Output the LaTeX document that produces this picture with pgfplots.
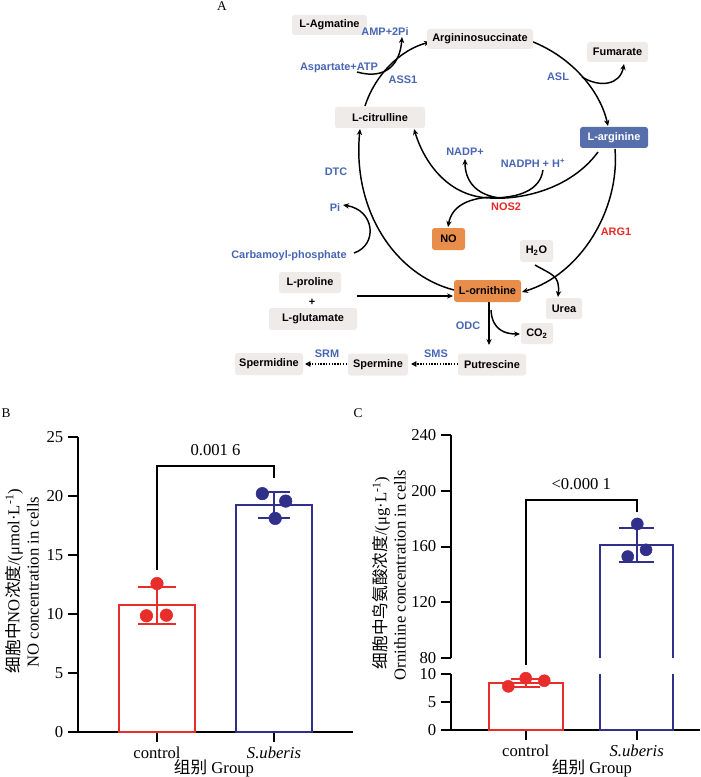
\documentclass[border=0pt]{standalone}
\usepackage{pgfplots}
\pgfplotsset{compat=1.18}
\usepackage{fontspec}
\setmainfont{Liberation Serif}
\newfontfamily\arial{Liberation Sans}
\newfontfamily\cjk{Noto Sans CJK SC}
\usetikzlibrary{arrows.meta}
\definecolor{boxgray}{RGB}{239,235,233}
\definecolor{orng}{RGB}{233,141,75}
\definecolor{bluebox}{RGB}{86,111,170}
\definecolor{bluetxt}{RGB}{72,102,180}
\definecolor{redtxt}{RGB}{235,40,40}
\definecolor{cred}{RGB}{232,45,42}
\definecolor{cblue}{RGB}{48,48,138}
\begin{document}
\begin{tikzpicture}[x=0.75pt,y=-0.75pt]
\path[use as bounding box] (0,0) rectangle (700,777);
\tikzset{
 dfont/.style={font=\arial\bfseries\fontsize{8.2}{9}\selectfont},
 box/.style={dfont, fill=boxgray, rounded corners=2pt, inner sep=0pt, text=black},
 lab/.style={dfont, text=bluetxt, inner sep=0pt},
 rlab/.style={dfont, text=redtxt, inner sep=0pt},
 ar/.style={line width=1.1pt, -{Stealth[length=4.5pt,width=4pt]}},
 ln/.style={line width=1.1pt},
 dar/.style={line width=1.1pt, densely dotted, -{Triangle[open,length=4pt,width=4pt]}},
 ctext/.style={font=\fontsize{12.5}{14}\selectfont},
}
% ---------------- Panel A ----------------
\node[font=\fontsize{10}{12}\selectfont] at (222,6) {A};
% curves
\draw[ar] (365,106) .. controls (375,75) and (400,50) .. (430,42);
\draw[ar] (357,72) .. controls (385,80) and (400,65) .. (402,37);
\draw[ar] (528,40) .. controls (570,55) and (600,90) .. (608,126);
\draw[ar] (582,77) .. controls (600,88) and (620,85) .. (624,64);
\draw[ar] (615,149) .. controls (620,210) and (580,275) .. (522,292);
\draw[ar] (535,265) .. controls (552,275) and (560,275) .. (558,297);
\draw[ar] (454,290) .. controls (395,275) and (352,210) .. (360,129);
\draw[ar] (354,253) .. controls (378,245) and (375,210) .. (343,205);
\draw[ar] (598,152) .. controls (570,190) and (520,200) .. (490,198) .. controls (450,197) and (425,165) .. (414,129);
\draw[ar] (500,198) .. controls (475,195) and (465,180) .. (465,159);
\draw[ln] (543,170) .. controls (540,190) and (520,198) .. (490,198);
\draw[ar] (492,197) .. controls (470,198) and (452,205) .. (448,227);
\draw[ar] (357,296) -- (453,296);
\draw[ar] (489,302) -- (489,345);
\draw[ar] (491,310) .. controls (492,330) and (505,334) .. (520,334);
\draw[dar] (458,364) -- (411,364);
\draw[dar] (347,364) -- (305,364);
% boxes
\node[box, minimum width=56.25pt, minimum height=15pt] at (329.5,25) {L-Agmatine};
\node[box, minimum width=79.5pt, minimum height=15pt] at (480,39) {Argininosuccinate};
\node[box, minimum width=45.75pt, minimum height=15pt] at (617.5,52) {Fumarate};
\node[box, minimum width=67.5pt, minimum height=15.75pt] at (380,117.5) {L-citrulline};
\node[box, fill=bluebox, text=white, minimum width=51pt, minimum height=15.75pt] at (614,137.5) {L-arginine};
\node[box, fill=orng, minimum width=24.75pt, minimum height=16.5pt] at (448.5,239) {NO};
\node[box, minimum width=24.75pt, minimum height=16.5pt] at (536.5,251) {H\textsubscript{2}O};
\node[box, minimum width=46.5pt, minimum height=15.75pt] at (310,282.5) {L-proline};
\node[box, minimum width=66pt, minimum height=16.5pt] at (313,319) {L-glutamate};
\node[box, fill=orng, minimum width=50.25pt, minimum height=16.5pt] at (487.5,291) {L-ornithine};
\node[box, minimum width=27pt, minimum height=15.75pt] at (564,308.5) {Urea};
\node[box, minimum width=24pt, minimum height=15.75pt] at (537,333.5) {CO\textsubscript{2}};
\node[box, minimum width=51pt, minimum height=16.5pt] at (269,364) {Spermidine};
\node[box, minimum width=45pt, minimum height=16.5pt] at (378,364.5) {Spermine};
\node[box, minimum width=51pt, minimum height=16.5pt] at (492,364.5) {Putrescine};
% labels
\node[lab] at (385,32) {AMP+2Pi};
\node[lab] at (339,68) {Aspartate+ATP};
\node[lab] at (403,80) {ASS1};
\node[lab] at (558,77) {ASL};
\node[lab] at (465,152) {NADP+};
\node[lab] at (533,163) {NADPH + H\textsuperscript{+}};
\node[lab] at (336,172) {DTC};
\node[lab] at (335,208) {Pi};
\node[rlab] at (506,207) {NOS2};
\node[rlab] at (616,232) {ARG1};
\node[lab] at (289,256) {Carbamoyl-phosphate};
\node[dfont, inner sep=0pt] at (312,302) {+};
\node[lab] at (468,326) {ODC};
\node[lab] at (327,354) {SRM};
\node[lab] at (436,354) {SMS};
% ---------------- Panel B ----------------
\node[font=\fontsize{10}{12}\selectfont] at (6,413) {B};
\begin{axis}[at={(58.5pt,-549pt)}, anchor=south west, scale only axis,
  width=206.25pt, height=221.25pt,
  xmin=-0.675, xmax=1.675, ymin=0, ymax=25,
  axis lines=left, axis line style={line width=1.5pt, -},
  xtick={0,1}, xticklabels={control,\textit{S.uberis}},
  ytick={0,5,...,25},
  tick style={line width=1.5pt, black}, major tick length=7.5pt, tick align=outside,
  tick label style={font=\fontsize{12.5}{14}\selectfont},
  /pgf/number format/assume math mode=true,
  clip=false]
\addplot[ybar, bar width=0.65, bar shift=0pt, draw=cred, fill=white, line width=1.5pt,
  error bars/.cd, y dir=both, y explicit,
  error bar style={line width=1.5pt, cred},
  error mark options={rotate=90, line width=1.5pt, mark size=14pt, cred}]
  coordinates {(0,10.75) +- (0,1.58)};
\addplot[ybar, bar width=0.65, bar shift=0pt, draw=cblue, fill=white, line width=1.5pt,
  error bars/.cd, y dir=both, y explicit,
  error bar style={line width=1.5pt, cblue},
  error mark options={rotate=90, line width=1.5pt, mark size=12pt, cblue}]
  coordinates {(1,19.26) +- (0,1.1)};
\addplot[only marks, mark=*, mark size=4.7pt, cred] coordinates {(0,12.58) (-0.09,9.85) (0.08,9.9)};
\addplot[only marks, mark=*, mark size=4.7pt, cblue] coordinates {(0.9,20.2) (1.1,19.57) (1.01,18.1)};
\draw[line width=1.5pt] (axis cs:0,13.7) -- (axis cs:0,22.55) -- (axis cs:1,22.55) -- (axis cs:1,21.5);
\node[ctext] at (axis cs:0.5,23.9) {0.001 6};
\end{axis}
\node[rotate=90, ctext] at (14,581) {{\cjk 细胞中}NO{\cjk 浓度}/(μmol·L\textsuperscript{-1})};
\node[rotate=90, ctext] at (33,582) {NO concentration in cells};
\node[ctext] at (214,768) {{\cjk 组别} Group};
% ---------------- Panel C ----------------
\node[font=\fontsize{10}{12}\selectfont] at (358,413) {C};
\begin{axis}[at={(338.25pt,-547.5pt)}, anchor=south west, scale only axis,
  width=186.75pt, height=42pt,
  xmin=-0.673, xmax=1.570, ymin=0, ymax=10,
  axis lines=left, axis line style={line width=1.5pt, -},
  xtick={0,1}, xticklabels={control,\textit{S.uberis}},
  ytick={0,5,10},
  tick style={line width=1.5pt, black}, major tick length=7.5pt, tick align=outside,
  tick label style={font=\fontsize{12.5}{14}\selectfont},
  /pgf/number format/assume math mode=true,
  clip mode=individual]
\addplot[ybar, bar width=0.667, bar shift=0pt, draw=cred, fill=white, line width=1.5pt,
  error bars/.cd, y dir=both, y explicit,
  error bar style={line width=1.5pt, cred},
  error mark options={rotate=90, line width=1.5pt, mark size=11pt, cred}]
  coordinates {(0,8.4) +- (0,0.7)};
\addplot[ybar, bar width=0.66, bar shift=0pt, draw=cblue, fill=white, line width=1.5pt]
  coordinates {(1,161.2)};
\addplot[only marks, mark=*, mark size=4.5pt, cred] coordinates {(-0.157,7.8) (0,9.25) (0.167,8.8)};
\end{axis}
\begin{axis}[at={(338.25pt,-493.5pt)}, anchor=south west, scale only axis,
  width=186.75pt, height=167.25pt,
  xmin=-0.673, xmax=1.570, ymin=80, ymax=240,
  axis y line=left, axis x line=none, axis line style={line width=1.5pt, -},
  ytick={80,120,...,240},
  tick style={line width=1.5pt, black}, major tick length=7.5pt, tick align=outside,
  tick label style={font=\fontsize{12.5}{14}\selectfont},
  /pgf/number format/assume math mode=true,
  clip mode=individual]
% bar outline (open at the axis break)
\addplot[cblue, line width=1.5pt, mark=none, line join=miter]
  coordinates {(0.67,80) (0.67,161.2) (1.33,161.2) (1.33,80)};
\addplot[cblue, line width=1.5pt, mark=none,
  error bars/.cd, y dir=both, y explicit,
  error bar style={line width=1.5pt, cblue},
  error mark options={rotate=90, line width=1.5pt, mark size=13pt, cblue}]
  coordinates {(1,161.2) +- (0,12)};
\addplot[only marks, mark=*, mark size=4.5pt, cblue] coordinates {(1.005,176.2) (1.084,157.6) (0.919,152.8)};
\draw[line width=1.5pt] (axis cs:0,75) -- (axis cs:0,193.4) -- (axis cs:1,193.4) -- (axis cs:1,185);
\node[ctext] at (axis cs:0.5,204.6) {<0.000 1};
\end{axis}
\node[rotate=90, ctext] at (381,573) {{\cjk 细胞中鸟氨酸浓度}/(μg·L\textsuperscript{-1})};
\node[rotate=90, ctext] at (400,575) {Ornithine concentration in cells};
\node[ctext] at (592,768) {{\cjk 组别} Group};
\end{tikzpicture}
\end{document}
